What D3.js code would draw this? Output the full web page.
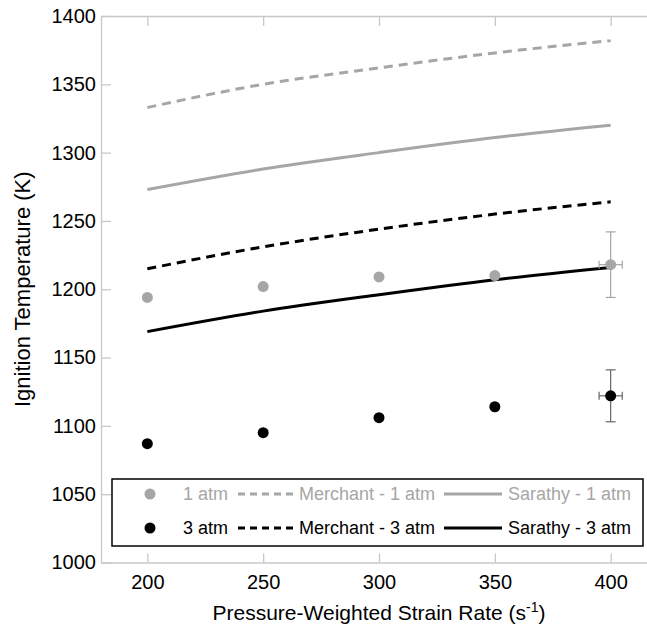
<!DOCTYPE html>
<html>
<head>
<meta charset="utf-8">
<script src="https://cdn.jsdelivr.net/npm/d3@7/dist/d3.min.js"></script>
<style>
  html, body { margin: 0; padding: 0; background: #fff; }
  svg { display: block; font-family: "Liberation Sans", Arial, sans-serif; }
</style>
</head>
<body>
<svg id="chart" width="647" height="625"></svg>
<script>
// ---- data ----
const strainRates = [200, 250, 300, 350, 400];
const exp1atm = [1194, 1202, 1209, 1210, 1218];
const exp3atm = [1087, 1095, 1106, 1114, 1122];
const merchant1atm = [1333, 1350, 1362, 1373, 1382];
const sarathy1atm = [1273, 1288, 1300, 1311, 1320];
const merchant3atm = [1215, 1231, 1244, 1255, 1264];
const sarathy3atm = [1169, 1184, 1196, 1207, 1216];
// error bars (only at the last point)
const errX = [400];
const err1atmY = [24];
const err3atmY = [19];
const errXhalf = [5];
const yTicks = [1000, 1050, 1100, 1150, 1200, 1250, 1300, 1350, 1400];
const xTicks = [200, 250, 300, 350, 400];

const GRAY = "#a6a6a6";
const AXIS = "#c8c8c8";

const svg = d3.select("#chart");
const x = d3.scaleLinear().domain([180, 420]).range([101, 657]);
const y = d3.scaleLinear().domain([1000, 1400]).range([562.5, 16]);
const fmt = d3.format("d");

// axes
const gAx = svg.append("g");
function styleAxis(g) {
  g.attr("font-family", null).attr("font-size", null);
  g.selectAll("path.domain").attr("stroke", AXIS).attr("stroke-width", 1.3);
  g.selectAll(".tick line").attr("stroke", AXIS).attr("stroke-width", 1.3);
  g.selectAll(".tick text").attr("fill", "#000").style("font-size", "20px");
}
const xAxis = gAx.append("g").attr("transform", `translate(0,${y(1000)})`)
  .call(d3.axisBottom(x).tickValues(xTicks).tickFormat(fmt).tickSizeInner(-9).tickSizeOuter(0).tickPadding(12));
styleAxis(xAxis);
const xTop = gAx.append("g").attr("transform", `translate(0,${y(1400)})`)
  .call(d3.axisTop(x).tickValues(xTicks).tickSizeInner(-10).tickSizeOuter(0).tickFormat(""));
styleAxis(xTop);
const yAxis = gAx.append("g").attr("transform", `translate(${x(180)},0)`)
  .call(d3.axisLeft(y).tickValues(yTicks).tickFormat(fmt).tickSizeInner(-10).tickSizeOuter(0).tickPadding(5));
styleAxis(yAxis);

// axis titles
svg.append("text").attr("x", 379).attr("y", 620).attr("text-anchor", "middle")
  .style("font-size", "21px").attr("fill", "#000")
  .html('Pressure-Weighted Strain Rate (s<tspan dy="-8" style="font-size:14px">-1</tspan><tspan dy="8">)</tspan>');
svg.append("text").attr("transform", `translate(30,${y(1200)}) rotate(-90)`)
  .attr("text-anchor", "middle").style("font-size", "22px").attr("fill", "#000")
  .text("Ignition Temperature (K)");

// lines
const line = d3.line().x((d, i) => x(strainRates[i])).y(d => y(d)).curve(d3.curveMonotoneX);
const series = [
  { v: merchant1atm, c: GRAY, dash: "9,6" },
  { v: sarathy1atm, c: GRAY, dash: null },
  { v: merchant3atm, c: "#000", dash: "9,6" },
  { v: sarathy3atm, c: "#000", dash: null }
];
series.forEach(s => {
  svg.append("path").attr("d", line(s.v)).attr("fill", "none")
    .attr("stroke", s.c).attr("stroke-width", 3)
    .attr("stroke-dasharray", s.dash);
});

// error bars
function errorBars(xv, yv, dy, dx, color) {
  const g = svg.append("g").attr("stroke", color).attr("stroke-width", 1.2);
  const cx = x(xv), cy = y(yv);
  g.append("line").attr("x1", cx).attr("x2", cx).attr("y1", y(yv + dy)).attr("y2", y(yv - dy));
  g.append("line").attr("x1", cx - 5).attr("x2", cx + 5).attr("y1", y(yv + dy)).attr("y2", y(yv + dy));
  g.append("line").attr("x1", cx - 5).attr("x2", cx + 5).attr("y1", y(yv - dy)).attr("y2", y(yv - dy));
  g.append("line").attr("x1", x(xv - dx)).attr("x2", x(xv + dx)).attr("y1", cy).attr("y2", cy);
  g.append("line").attr("x1", x(xv - dx)).attr("x2", x(xv - dx)).attr("y1", cy - 4).attr("y2", cy + 4);
  g.append("line").attr("x1", x(xv + dx)).attr("x2", x(xv + dx)).attr("y1", cy - 4).attr("y2", cy + 4);
}
errorBars(errX[0], exp1atm[4], err1atmY[0], errXhalf[0], GRAY);
errorBars(errX[0], exp3atm[4], err3atmY[0], errXhalf[0], "#666");

// points
svg.append("g").selectAll("circle").data(exp1atm).join("circle")
  .attr("cx", (d, i) => x(strainRates[i])).attr("cy", d => y(d)).attr("r", 5.5).attr("fill", GRAY);
svg.append("g").selectAll("circle").data(exp3atm).join("circle")
  .attr("cx", (d, i) => x(strainRates[i])).attr("cy", d => y(d)).attr("r", 5.5).attr("fill", "#000");

// legend
const lg = svg.append("g");
lg.append("rect").attr("x", 112).attr("y", 479).attr("width", 531).attr("height", 67)
  .attr("fill", "#fff").attr("stroke", "#000").attr("stroke-width", 1.5);
const rows = [
  { y: 494, c: GRAY, labels: ["1 atm", "Merchant - 1 atm", "Sarathy - 1 atm"] },
  { y: 528, c: "#000", labels: ["3 atm", "Merchant - 3 atm", "Sarathy - 3 atm"] }
];
rows.forEach(r => {
  const g = lg.append("g").attr("fill", r.c).style("font-size", "18px");
  g.append("circle").attr("cx", 150).attr("cy", r.y).attr("r", 5.5);
  g.append("text").attr("x", 183).attr("y", r.y + 6).text(r.labels[0]);
  g.append("line").attr("x1", 238).attr("x2", 294).attr("y1", r.y).attr("y2", r.y)
    .attr("stroke", r.c).attr("stroke-width", 3).attr("stroke-dasharray", "7,5");
  g.append("text").attr("x", 299).attr("y", r.y + 6).text(r.labels[1]);
  g.append("line").attr("x1", 444).attr("x2", 502).attr("y1", r.y).attr("y2", r.y)
    .attr("stroke", r.c).attr("stroke-width", 3);
  g.append("text").attr("x", 508).attr("y", r.y + 6).text(r.labels[2]);
});
</script>
</body>
</html>
